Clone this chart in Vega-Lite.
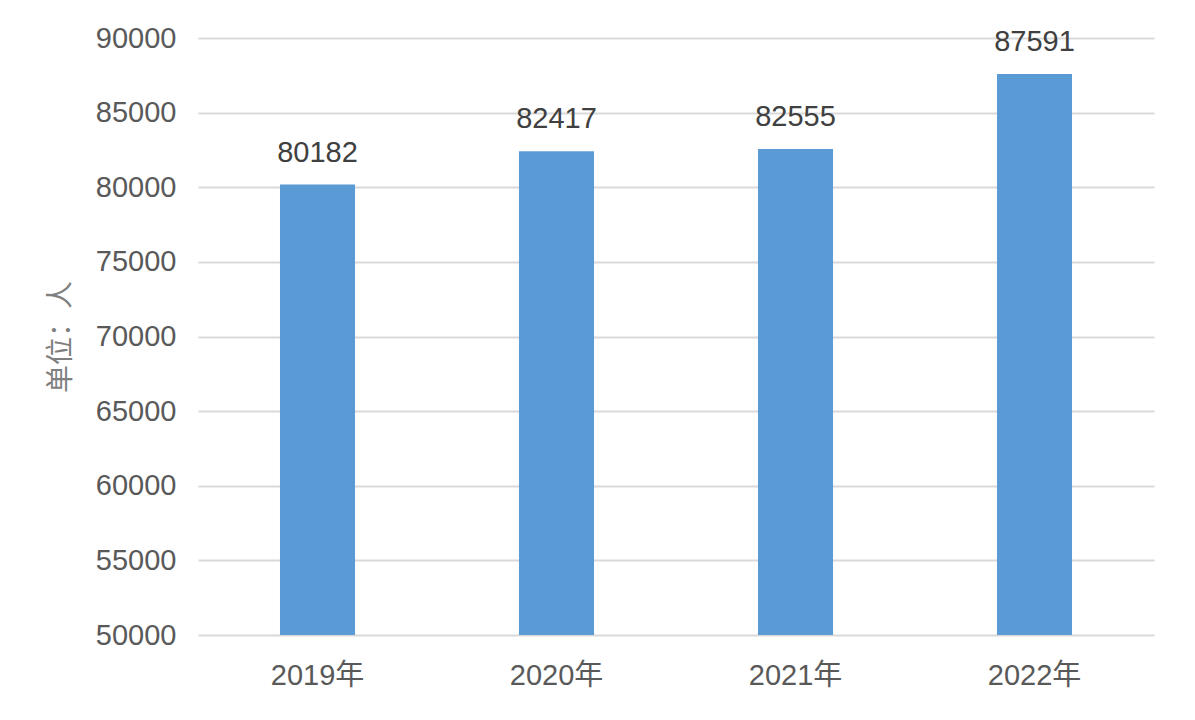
{
  "$schema": "https://vega.github.io/schema/vega-lite/v6.json",
  "autosize": "none",
  "width": 956,
  "height": 597,
  "padding": {"left": 198, "top": 38, "right": 41, "bottom": 85},
  "background": "white",
  "config": {"view": {"stroke": null}},
  "data": {"values": [
    {"year": "2019年", "value": 80182},
    {"year": "2020年", "value": 82417},
    {"year": "2021年", "value": 82555},
    {"year": "2022年", "value": 87591}
  ]},
  "encoding": {
    "x": {"field": "year", "type": "nominal", "sort": null,
      "scale": {"paddingInner": 0.686, "paddingOuter": 0.343},
      "axis": {"title": null, "labelAngle": 0, "domain": false, "ticks": false, "labelPadding": 26,
        "labelFont": "Liberation Sans, Noto Sans CJK SC", "labelFontSize": 29, "labelColor": "#595959"}},
    "y": {"field": "value", "type": "quantitative",
      "scale": {"domain": [50000, 90000], "zero": false, "nice": false},
      "axis": {"values": [50000, 55000, 60000, 65000, 70000, 75000, 80000, 85000, 90000],
        "format": "d", "domain": false, "ticks": false, "labelPadding": 22,
        "labelFont": "Liberation Sans", "labelFontSize": 29, "labelColor": "#595959",
        "gridColor": "#d9d9d9", "gridWidth": 2,
        "title": "单位：人", "titleFont": "Noto Sans CJK SC", "titleFontSize": 28, "titleFontWeight": "normal",
        "titleColor": "#7f7f7f", "titlePadding": 20}}
  },
  "layer": [
    {"mark": {"type": "bar", "color": "#5B9BD5", "clip": true}},
    {"mark": {"type": "text", "baseline": "alphabetic", "dy": -23, "font": "Liberation Sans", "fontSize": 29, "color": "#404040"},
     "encoding": {"text": {"field": "value", "type": "quantitative", "format": "d"}}}
  ]
}
